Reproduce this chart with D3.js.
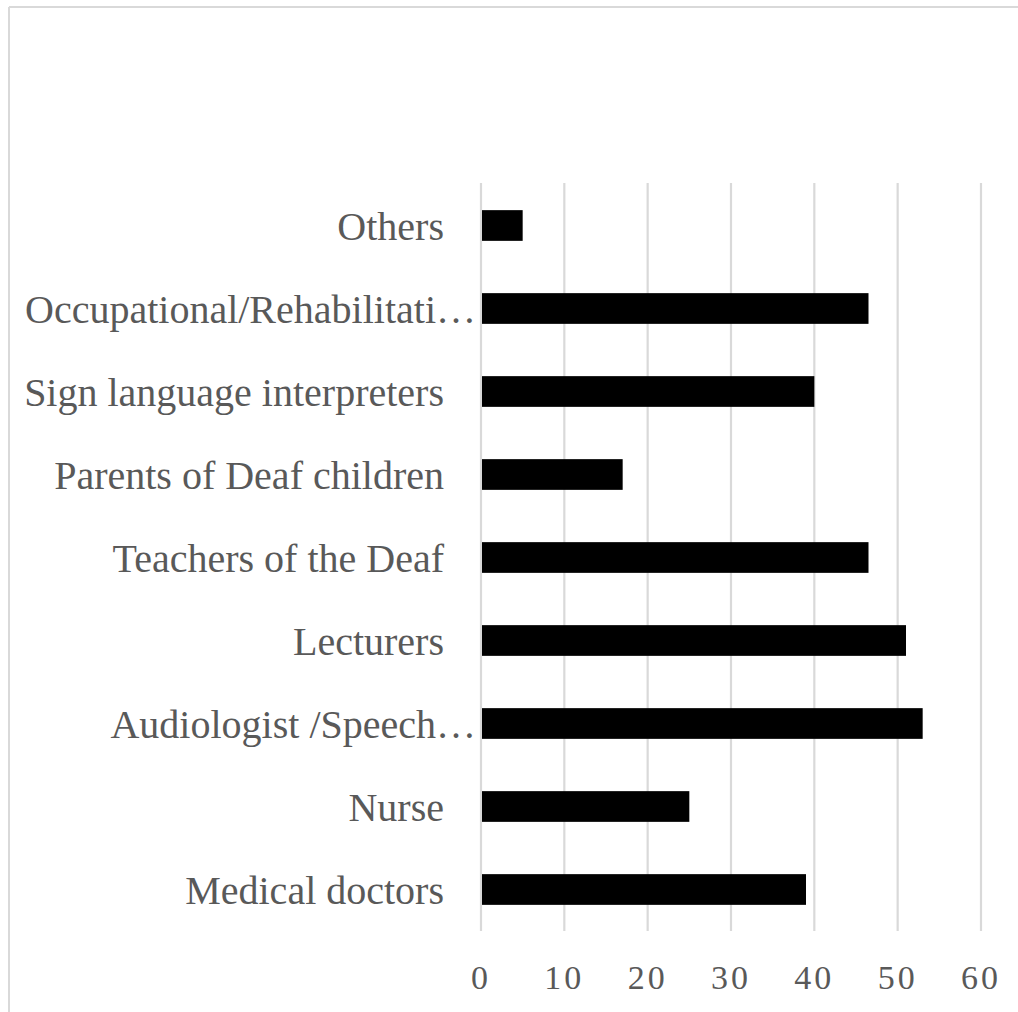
<!DOCTYPE html>
<html>
<head>
<meta charset="utf-8">
<script src="https://cdn.jsdelivr.net/npm/d3@7"></script>
<style>
  html, body { margin: 0; padding: 0; background: #fff; }
  svg { display: block; }
</style>
</head>
<body>
<svg id="chart" width="1018" height="1012"></svg>
<script>
// Data (top to bottom as displayed)
const categories = [
  "Others",
  "Occupational/Rehabilitati…",
  "Sign language interpreters",
  "Parents of Deaf children",
  "Teachers of the Deaf",
  "Lecturers",
  "Audiologist /Speech…",
  "Nurse",
  "Medical doctors"
];
const truncated = [false, true, false, false, false, false, true, false, false];
const values = [5, 46.5, 40, 17, 46.5, 51, 53, 25, 39];
const tickValues = [0, 10, 20, 30, 40, 50, 60];

const svg = d3.select("#chart");
const W = 1018, H = 1012;

// frame
svg.append("line").attr("x1", 9).attr("x2", W).attr("y1", 7).attr("y2", 7)
  .attr("stroke", "#d9d9d9").attr("stroke-width", 2);
svg.append("line").attr("x1", 9).attr("x2", 9).attr("y1", 7).attr("y2", H)
  .attr("stroke", "#d9d9d9").attr("stroke-width", 2);

const x = d3.scaleLinear().domain([0, 60]).range([481, 981]);
const y = d3.scaleBand().domain(categories).range([184, 931])
  .paddingInner(0.63).paddingOuter(0.315);

// gridlines
svg.append("g").selectAll("line").data(tickValues).join("line")
  .attr("x1", d => x(d)).attr("x2", d => x(d))
  .attr("y1", 183).attr("y2", 931)
  .attr("stroke", "#d9d9d9").attr("stroke-width", 2.2);

// bars
svg.append("g").selectAll("rect").data(values).join("rect")
  .attr("x", x(0) + 1)
  .attr("y", (d, i) => y(categories[i]))
  .attr("width", d => x(d) - x(0) - 1)
  .attr("height", y.bandwidth())
  .attr("fill", "#000");

// category labels
svg.append("g").selectAll("text").data(categories).join("text")
  .attr("x", (d, i) => truncated[i] ? 476 : 444)
  .attr("y", d => y(d) + y.bandwidth() / 2)
  .attr("dy", "0.35em")
  .attr("text-anchor", "end")
  .attr("font-family", "'Liberation Serif', 'Times New Roman', serif")
  .attr("font-size", 40)
  .attr("fill", "#595959")
  .text(d => d);

// x tick labels
svg.append("g").selectAll("text").data(tickValues).join("text")
  .attr("x", d => x(d))
  .attr("y", 989)
  .attr("text-anchor", "middle")
  .attr("font-family", "'Liberation Serif', 'Times New Roman', serif")
  .attr("font-size", 34)
  .attr("letter-spacing", 3)
  .attr("fill", "#595959")
  .text(d => d);
</script>
</body>
</html>
